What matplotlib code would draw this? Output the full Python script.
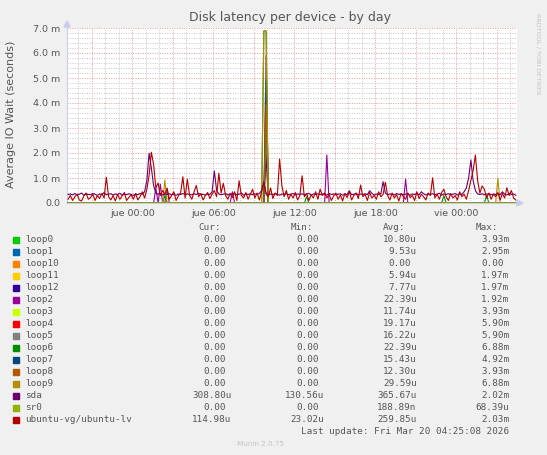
import numpy as np
import matplotlib
matplotlib.use("Agg")
import matplotlib.pyplot as plt
from matplotlib.patches import Rectangle

# time axis: hours counted from "jue 00:00", one sample every 10 minutes
t_start = -4.75
t_step = 1 / 6
n_samples = 200

# values in milliseconds
sda = [
    0.34, 0.36, 0.32, 0.38, 0.33, 0.35, 0.40, 0.31, 0.36, 0.34,
    0.33, 0.38, 0.35, 0.30, 0.36, 0.34, 0.42, 0.33, 0.35, 0.37,
    0.32, 0.36, 0.34, 0.39, 0.31, 0.35, 0.33, 0.37, 0.34, 0.30,
    0.36, 0.33, 0.38, 0.35, 0.45, 0.90, 1.99, 1.40, 0.70, 0.40,
    0.35, 0.38, 0.32, 0.36, 0.34, 0.37, 0.33, 0.35, 0.31, 0.36,
    0.34, 0.38, 0.33, 0.36, 0.35, 0.32, 0.37, 0.34, 0.39, 0.33,
    0.35, 0.31, 0.36, 0.34, 0.45, 1.28, 0.50, 0.36, 0.33, 0.35,
    0.38, 0.32, 0.36, 0.34, 0.37, 0.33, 0.35, 0.40, 0.31, 0.36,
    0.34, 0.37, 0.33, 0.36, 0.35, 0.38, 0.50, 0.85, 0.40, 0.34,
    0.36, 0.33, 0.38, 0.35, 0.31, 0.36, 0.34, 0.37, 0.33, 0.35,
    0.38, 0.32, 0.36, 0.34, 0.37, 0.33, 0.35, 0.39, 0.31, 0.36,
    0.34, 0.37, 0.33, 0.36, 0.35, 0.32, 0.38, 0.34, 0.36, 0.33,
    0.35, 0.37, 0.31, 0.36, 0.34, 0.49, 0.33, 0.35, 0.38, 0.32,
    0.36, 0.34, 0.37, 0.33, 0.49, 0.39, 0.31, 0.36, 0.34, 0.37,
    0.85, 0.40, 0.33, 0.36, 0.35, 0.32, 0.38, 0.34, 0.36, 0.33,
    0.35, 0.37, 0.31, 0.36, 0.34, 0.38, 0.33, 0.45, 0.37, 0.32,
    0.36, 0.34, 0.37, 0.33, 0.35, 0.39, 0.31, 0.36, 0.34, 0.37,
    0.33, 0.35, 0.38, 0.32, 0.36, 0.34, 0.45, 0.60, 1.00, 1.72,
    0.90, 0.50, 0.36, 0.34, 0.37, 0.33, 0.35, 0.38, 0.32, 0.36,
    0.34, 0.37, 0.33, 0.45, 0.35, 0.32, 0.38, 0.34, 0.36, 0.309,
]

ubuntu_lv = [
    0.15, 0.30, 0.10, 0.25, 0.35, 0.12, 0.08, 0.28, 0.40, 0.15,
    0.22, 0.35, 0.10, 0.30, 0.18, 0.38, 0.20, 1.03, 0.25, 0.12,
    0.30, 0.08, 0.35, 0.15, 0.28, 0.42, 0.10, 0.22, 0.33, 0.15,
    0.38, 0.12, 0.26, 0.45, 0.20, 0.55, 1.10, 2.03, 1.55, 0.60,
    0.80, 0.30, 0.50, 0.35, 0.60, 0.15, 0.30, 0.45, 0.10, 0.28,
    0.40, 1.05, 0.20, 0.95, 0.30, 0.15, 0.45, 0.70, 0.25, 0.38,
    0.12, 0.30, 0.42, 0.18, 0.35, 0.50, 0.25, 1.19, 0.40, 0.79,
    0.30, 0.15, 0.38, 0.22, 0.45, 0.10, 0.89, 0.30, 0.20, 0.42,
    0.15, 0.35, 0.55, 0.20, 0.40, 0.12, 0.45, 0.81, 0.35, 0.25,
    0.60, 0.18, 0.40, 0.30, 1.76, 0.70, 0.25, 0.50, 0.15, 0.35,
    0.20, 0.42, 0.12, 0.30, 1.09, 0.25, 0.38, 0.10, 0.33, 0.20,
    0.45, 0.15, 0.55, 0.30, 0.40, 0.20, 0.35, 0.10, 0.28, 0.40,
    0.15, 0.32, 0.08, 0.38, 0.22, 0.45, 0.12, 0.30, 0.40, 0.18,
    0.72, 0.25, 0.35, 0.10, 0.42, 0.20, 0.30, 0.15, 0.45, 0.25,
    0.35, 0.83, 0.30, 0.12, 0.40, 0.20, 0.33, 0.08, 0.38, 0.25,
    0.15, 0.40, 0.22, 0.30, 0.10, 0.45, 0.18, 0.35, 0.25, 0.12,
    0.40, 0.30, 1.01, 0.20, 0.35, 0.15, 0.42, 0.55, 0.25, 0.10,
    0.38, 0.20, 0.30, 0.12, 0.45, 0.25, 0.35, 0.15, 0.50, 0.90,
    1.30, 1.92, 0.90, 0.40, 0.68, 0.55, 0.20, 0.40, 0.15, 0.35,
    0.25, 0.42, 0.12, 0.38, 0.20, 0.61, 0.30, 0.50, 0.20, 0.115,
]

# the loop devices are zero except for a few spikes: (sample index, ms)
loop0_spikes = [(88, 3.93)]
loop1_spikes = [(88, 2.95)]
loop10_spikes = []
loop11_spikes = [(88, 1.97)]
loop12_spikes = [(88, 1.97)]
loop2_spikes = [(39, 0.60), (41, 0.75), (44, 0.55), (73, 0.45), (115, 1.92), (150, 0.96)]
loop3_spikes = [(88, 3.93)]
loop4_spikes = [(88, 5.90)]
loop5_spikes = [(88, 5.90)]
loop6_spikes = [(43, 0.30), (87, 6.88), (88, 6.88), (106, 0.25), (167, 0.30), (186, 0.30)]
loop7_spikes = [(88, 4.92)]
loop8_spikes = [(88, 3.93)]
loop9_spikes = [(43, 0.92), (87, 6.88), (88, 6.88), (191, 0.99)]
sr0_spikes = [(43, 0.068)]

names = ["loop0", "loop1", "loop10", "loop11", "loop12", "loop2", "loop3", "loop4",
         "loop5", "loop6", "loop7", "loop8", "loop9", "sda", "sr0", "ubuntu-vg/ubuntu-lv"]
colors = ["#00CC00", "#0066B3", "#FF8000", "#FFCC00", "#330099", "#990099", "#CCFF00", "#FF0000",
          "#808080", "#008F00", "#00487D", "#B35A00", "#B38F00", "#6B006B", "#8FB300", "#B30000"]
cur_vals = ["0.00", "0.00", "0.00", "0.00", "0.00", "0.00", "0.00", "0.00",
            "0.00", "0.00", "0.00", "0.00", "0.00", "308.80u", "0.00", "114.98u"]
min_vals = ["0.00", "0.00", "0.00", "0.00", "0.00", "0.00", "0.00", "0.00",
            "0.00", "0.00", "0.00", "0.00", "0.00", "130.56u", "0.00", "23.02u"]
avg_vals = ["10.80u", "9.53u", "0.00", "5.94u", "7.77u", "22.39u", "11.74u", "19.17u",
            "16.22u", "22.39u", "15.43u", "12.30u", "29.59u", "365.67u", "188.89n", "259.85u"]
max_vals = ["3.93m", "2.95m", "0.00", "1.97m", "1.97m", "1.92m", "3.93m", "5.90m",
            "5.90m", "6.88m", "4.92m", "3.93m", "6.88m", "2.02m", "68.39u", "2.03m"]

x_tick_hours = [-3, 0, 3, 6, 9, 12, 15, 18, 21, 24, 27]
x_tick_labels = ["", "jue 00:00", "", "jue 06:00", "", "jue 12:00", "", "jue 18:00", "", "vie 00:00", ""]
y_ticks = [0, 1, 2, 3, 4, 5, 6, 7]
y_tick_labels = ["0.0", "1.0 m", "2.0 m", "3.0 m", "4.0 m", "5.0 m", "6.0 m", "7.0 m"]


def spikes_to_series(spikes):
    values = np.zeros(n_samples)
    for index, value in spikes:
        values[index] = value
    return values


series = [
    spikes_to_series(loop0_spikes), spikes_to_series(loop1_spikes),
    spikes_to_series(loop10_spikes), spikes_to_series(loop11_spikes),
    spikes_to_series(loop12_spikes), spikes_to_series(loop2_spikes),
    spikes_to_series(loop3_spikes), spikes_to_series(loop4_spikes),
    spikes_to_series(loop5_spikes), spikes_to_series(loop6_spikes),
    spikes_to_series(loop7_spikes), spikes_to_series(loop8_spikes),
    spikes_to_series(loop9_spikes), np.array(sda),
    spikes_to_series(sr0_spikes), np.array(ubuntu_lv),
]
hours = t_start + np.arange(n_samples) * t_step

W, H = 547, 455
fig = plt.figure(figsize=(W / 100, H / 100), dpi=100, facecolor="#F0F0F0")


def fx(px):
    return px / W


def fy(py):
    return 1 - py / H


# plot area: x 67..517, y 28..203 pixels
ax = fig.add_axes([fx(67), fy(203), (517 - 67) / W, (203 - 28) / H])
ax.set_facecolor("white")

for values, color in zip(series, colors):
    ax.plot(hours, values, color=color, lw=0.8, zorder=3)

ax.set_xlim(-4.83, 28.5)
ax.set_ylim(0, 7.0)

ax.set_xticks(x_tick_hours)
ax.set_xticklabels(x_tick_labels)
ax.set_xticks(np.arange(-4, 29, 1), minor=True)
ax.set_yticks(y_ticks)
ax.set_yticklabels(y_tick_labels)
ax.set_yticks(np.arange(0, 7.01, 0.2), minor=True)

ax.grid(which="minor", color="#C6C6C6", linestyle=(0, (1, 1.5)), lw=0.7)
ax.grid(which="major", color="#E89A9A", linestyle=(0, (1, 1.5)), lw=0.7)
ax.set_axisbelow(True)

ax.tick_params(which="both", length=0, labelsize=6.8, labelcolor="#555555")
ax.tick_params(axis="x", pad=4)
ax.tick_params(axis="y", pad=5)

for side in ["top", "right"]:
    ax.spines[side].set_visible(False)
for side in ["left", "bottom"]:
    ax.spines[side].set_color("#C8CCF0")
    ax.spines[side].set_linewidth(0.8)

# axis arrows
fig.patches.append(plt.Polygon([[fx(64), fy(27)], [fx(70), fy(27)], [fx(67), fy(21)]],
                               closed=True, transform=fig.transFigure, color="#C8CCF0"))
fig.patches.append(plt.Polygon([[fx(517), fy(200)], [fx(517), fy(206)], [fx(523), fy(203)]],
                               closed=True, transform=fig.transFigure, color="#C8CCF0"))

fig.text(fx(290), fy(18), "Disk latency per device - by day", ha="center", va="center",
         fontsize=9, color="#555555")
fig.text(fx(11), fy(114), "Average IO Wait (seconds)", rotation=90, ha="center", va="center",
         fontsize=8, color="#555555")
fig.text(fx(538), fy(54), "RRDTOOL / TOBI OETIKER", rotation=270, ha="center", va="center",
         fontsize=4.6, color="#C4C4C4")

# legend table
mono = "DejaVu Sans Mono"
mono_size = 6.7
char_w = 5.6
text_color = "#555555"
col_right = [231.7, 324.0, 416.7, 509.3]
headers = ["Cur:", "Min:", "Avg:", "Max:"]
for header, right in zip(headers, col_right):
    fig.text(fx(right - 2 * char_w), fy(227.3), header, ha="right", va="center",
             family=mono, fontsize=mono_size, color=text_color)

for k, name in enumerate(names):
    row_y = 239.7 + k * 12
    fig.patches.append(Rectangle((fx(13.3), fy(row_y + 2.8)), 5.5 / W, 5.5 / H,
                                 transform=fig.transFigure, color=colors[k]))
    fig.text(fx(25.3), fy(row_y), name, ha="left", va="center",
             family=mono, fontsize=mono_size, color=text_color)
    row_vals = [cur_vals[k], min_vals[k], avg_vals[k], max_vals[k]]
    for value, right in zip(row_vals, col_right):
        if not value[-1].isalpha():
            right = right - char_w
        fig.text(fx(right), fy(row_y), value, ha="right", va="center",
                 family=mono, fontsize=mono_size, color=text_color)

fig.text(fx(509.3), fy(431.3), "Last update: Fri Mar 20 04:25:08 2026", ha="right", va="center",
         family=mono, fontsize=mono_size, color=text_color)
fig.text(fx(261), fy(444), "Munin 2.0.75", ha="center", va="center",
         fontsize=5.2, color="#C4C4C4")

fig.savefig("out.png", dpi=100, facecolor=fig.get_facecolor())
